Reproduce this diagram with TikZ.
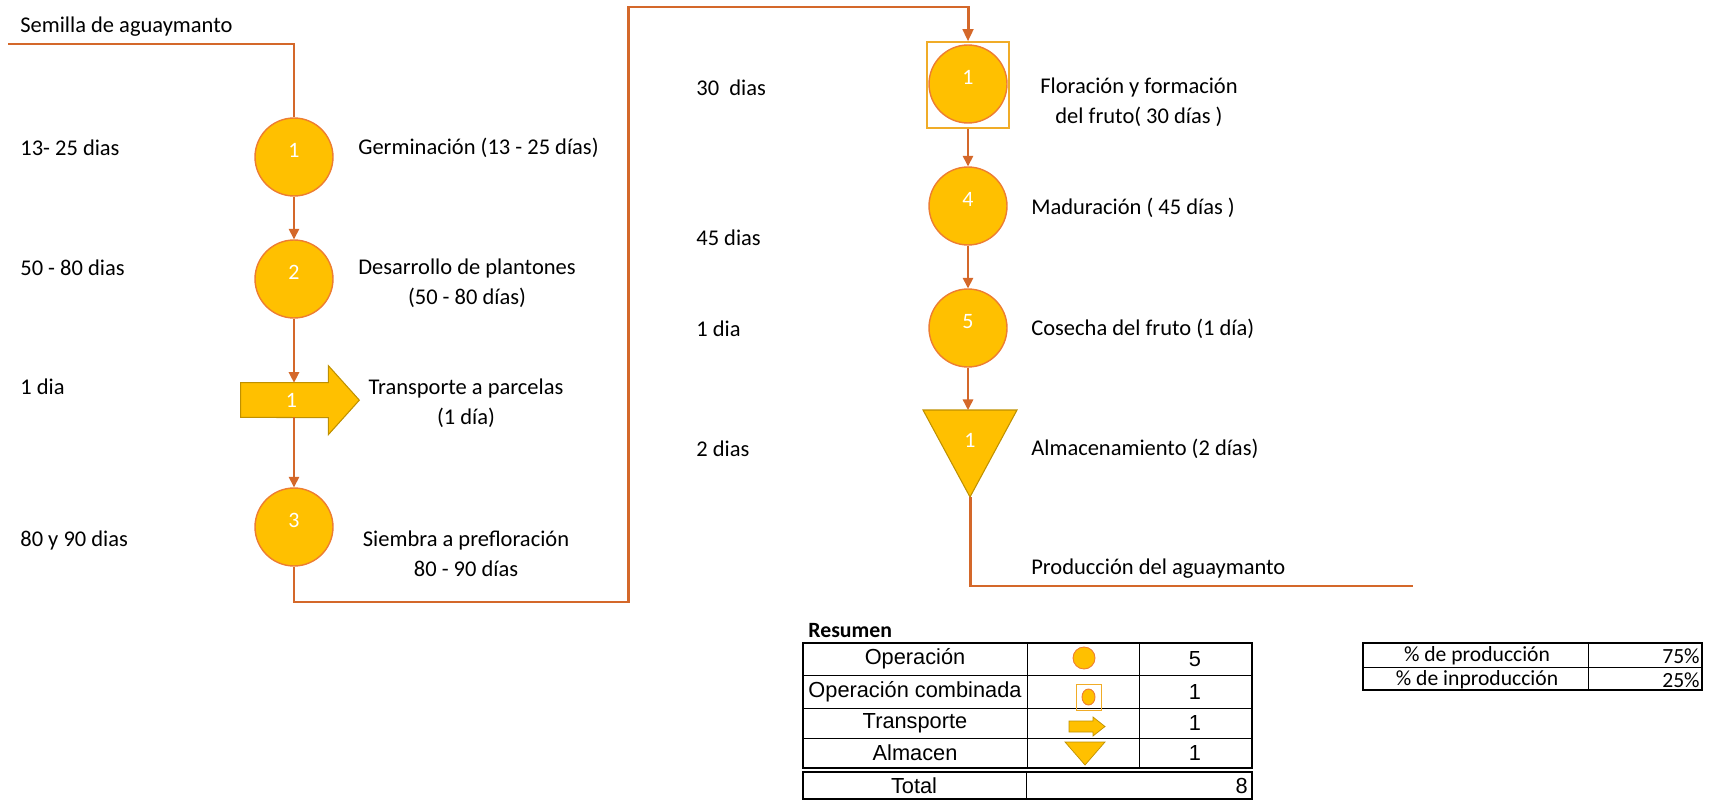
\documentclass[tikz,border=0pt]{standalone}
\usepackage{fontspec}
\setmainfont{Carlito}
\newfontfamily\arialfont{Liberation Sans}
\usetikzlibrary{arrows.meta}
\definecolor{opgold}{RGB}{255,192,0}
\definecolor{opedge}{RGB}{237,125,49}
\definecolor{flowline}{RGB}{212,104,42}
\definecolor{tredge}{RGB}{191,144,0}
\definecolor{boxgold}{RGB}{240,172,40}

\begin{document}
\begin{tikzpicture}[x=0.02cm,y=-0.02cm,
  lbl/.style={font=\fontsize{12.8}{17}\selectfont, inner sep=0pt},
  op/.style={circle, fill=opgold, draw=opedge, line width=0.8pt, minimum size=1.56cm, inner sep=0pt,
    text=white, font=\fontsize{12.5}{14}\selectfont, text height=7pt, text depth=6.8pt},
  numtxt/.style={text=white, font=\fontsize{12.5}{14}\selectfont, inner sep=0pt},
  combo/.style={rectangle, draw=boxgold, line width=0.7pt, minimum width=1.64cm, minimum height=1.72cm, inner sep=0pt},
  trbody/.style={rectangle, minimum width=1.74cm, minimum height=0.68cm, inner sep=0pt},
  trshape/.style={fill=opgold, draw=tredge, line width=0.6pt},
  mainline/.style={draw=flowline, line width=1.7pt},
  flow/.style={draw=flowline, line width=0.8pt, -{Triangle[length=6pt,width=6pt]}},
  tblthick/.style={draw=black, line width=1.1pt},
  tblthin/.style={draw=black, line width=0.5pt},
  tbltxt/.style={font=\arialfont\fontsize{12.4}{14}\selectfont, inner sep=0pt},
  pcttxt/.style={font=\fontsize{12.3}{14}\selectfont, inner sep=0pt}]
\useasboundingbox (0,0) rectangle (1723,800);

% left column
\coordinate (seed) at (8,44);
\node[lbl, anchor=west] (seedtxt) at (20,27) {Semilla de aguaymanto};

\node[op] (op1) at (294,157) {1};
\node[op] (op2) at (294,279) {2};
\node[trbody] (tr1) at (284.5,400) {};
\draw[trshape] (tr1.north west) -- (tr1.north east) -- ++(0,-17) -- ++(31,34.5) -- ++(-31,34.5) -- ++(0,-17) -- (tr1.south west) -- cycle;
\node[numtxt, xshift=4pt] (tr1num) at (tr1) {1};
\node[op] (op3) at (294,527) {3};

\draw[mainline] (seed) -| (op1.north);
\draw[flow] (op1.south) -- (op2.north);
\draw[flow] (op2.south) -- (op2.south |- tr1.north);
\draw[flow] (op2.south |- tr1.south) -- (op3.north);

\node[lbl, anchor=west] (t1) at (20,148) {13- 25 dias};
\node[lbl, anchor=west] (t2) at (20,268) {50 - 80 dias};
\node[lbl, anchor=west] (t3) at (20,387) {1 dia};
\node[lbl, anchor=west] (t4) at (20,541) {80 y 90 dias};

\node[lbl, anchor=west] (g1) at (358,148) {Germinación (13 - 25 días)};
\node[lbl, align=center] (g2) at (467,283) {Desarrollo de plantones\\(50 - 80 días)};
\node[lbl, align=center] (g3) at (466,403) {Transporte a parcelas\\(1 día)};
\node[lbl, align=center] (g4) at (466,554) {Siembra a prefloración\\80 - 90 días};

% right column
\coordinate (turn1) at (628,602);
\coordinate (turn2) at (628,7);
\node[combo] (box1) at (968,85) {};
\node[op] (opc1) at (968,84) {1};
\node[op] (op4) at (968,206) {4};
\node[op] (op5) at (968,328) {5};
\coordinate (al1top) at (968,410);
\coordinate (al1tip) at (970,497);
\draw[trshape] (al1top) ++(-45,0) -- ++(94,0) -- (al1tip) -- cycle;
\node[numtxt] (al1) at (970,440) {1};
\coordinate (prod) at (1413,586);

\draw[mainline, -{Triangle[length=7pt,width=6pt]}] (op3.south) |- (turn1) -- (turn2) -| (box1.north);
\draw[flow] (box1.south) -- (op4.north);
\draw[flow] (op4.south) -- (op5.north);
\draw[flow] (op5.south) -- (al1top);
\draw[mainline] (al1tip) |- (prod);

\node[lbl, anchor=west] (t5) at (696,88) {30\ \ dias};
\node[lbl, anchor=west] (t6) at (696,238) {45 dias};
\node[lbl, anchor=west] (t7) at (696,329) {1 dia};
\node[lbl, anchor=west] (t8) at (696,449) {2 dias};

\node[lbl, align=center] (g5) at (1139,102) {Floración y formación\\del fruto( 30 días )};
\node[lbl, anchor=west] (g6) at (1031,208) {Maduración ( 45 días )};
\node[lbl, anchor=west] (g7) at (1031,329) {Cosecha del fruto (1 día)};
\node[lbl, anchor=west] (g8) at (1031,449) {Almacenamiento (2 días)};
\node[lbl, anchor=west] (g9) at (1031,569) {Producción del aguaymanto};

% resumen
\node[lbl, anchor=west, font=\bfseries\fontsize{12.4}{14}\selectfont] (res) at (808,631) {Resumen};
\draw[tblthick] (803,643) rectangle (1252,768);
\foreach \y in {675,708,738} \draw[tblthin] (803,\y) -- (1252,\y);
\foreach \x in {1027,1139} \draw[tblthin] (\x,643) -- (\x,768);
\draw[tblthick] (803,772) rectangle (1252,799);
\draw[tblthin] (1026,772) -- (1026,799);
\foreach \txt/\val/\y [count=\i] in {Operación/5/659, Operación combinada/1/691.5, Transporte/1/723, Almacen/1/753}{
  \node[tbltxt] (row\i) at (915,\y) {\txt};
  \node[tbltxt] (val\i) at (1195,\y) {\val};
}
\node[tbltxt] (rowtot) at (914,786) {Total};
\node[tbltxt, anchor=east] (valtot) at (1248,786) {8};

% icons
\draw[fill=opgold, draw=opedge, line width=0.5pt] (1084,658) circle [radius=11];
\draw[draw=boxgold, line width=0.5pt] (1076,684) rectangle (1101,710);
\draw[fill=opgold, draw=opedge, line width=0.5pt] (1088.5,697) ellipse [x radius=6.5, y radius=8];
\draw[trshape, line width=0.4pt] (1069,721) -- (1093,721) -- (1093,717) -- (1105,726.5) -- (1093,736) -- (1093,732) -- (1069,732) -- cycle;
\draw[trshape, line width=0.4pt] (1065,742) -- (1105,742) -- (1085,765) -- cycle;

% porcentajes
\draw[tblthick] (1363,643) rectangle (1702,690);
\draw[tblthin] (1363,667) -- (1702,667);
\draw[tblthin] (1588,643) -- (1588,690);
\node[pcttxt] (p1) at (1477,656) {\% de producción};
\node[pcttxt, anchor=east] (p1v) at (1700,656) {75\%};
\node[pcttxt] (p2) at (1477,680) {\% de inproducción};
\node[pcttxt, anchor=east] (p2v) at (1700,680) {25\%};

\end{tikzpicture}
\end{document}
